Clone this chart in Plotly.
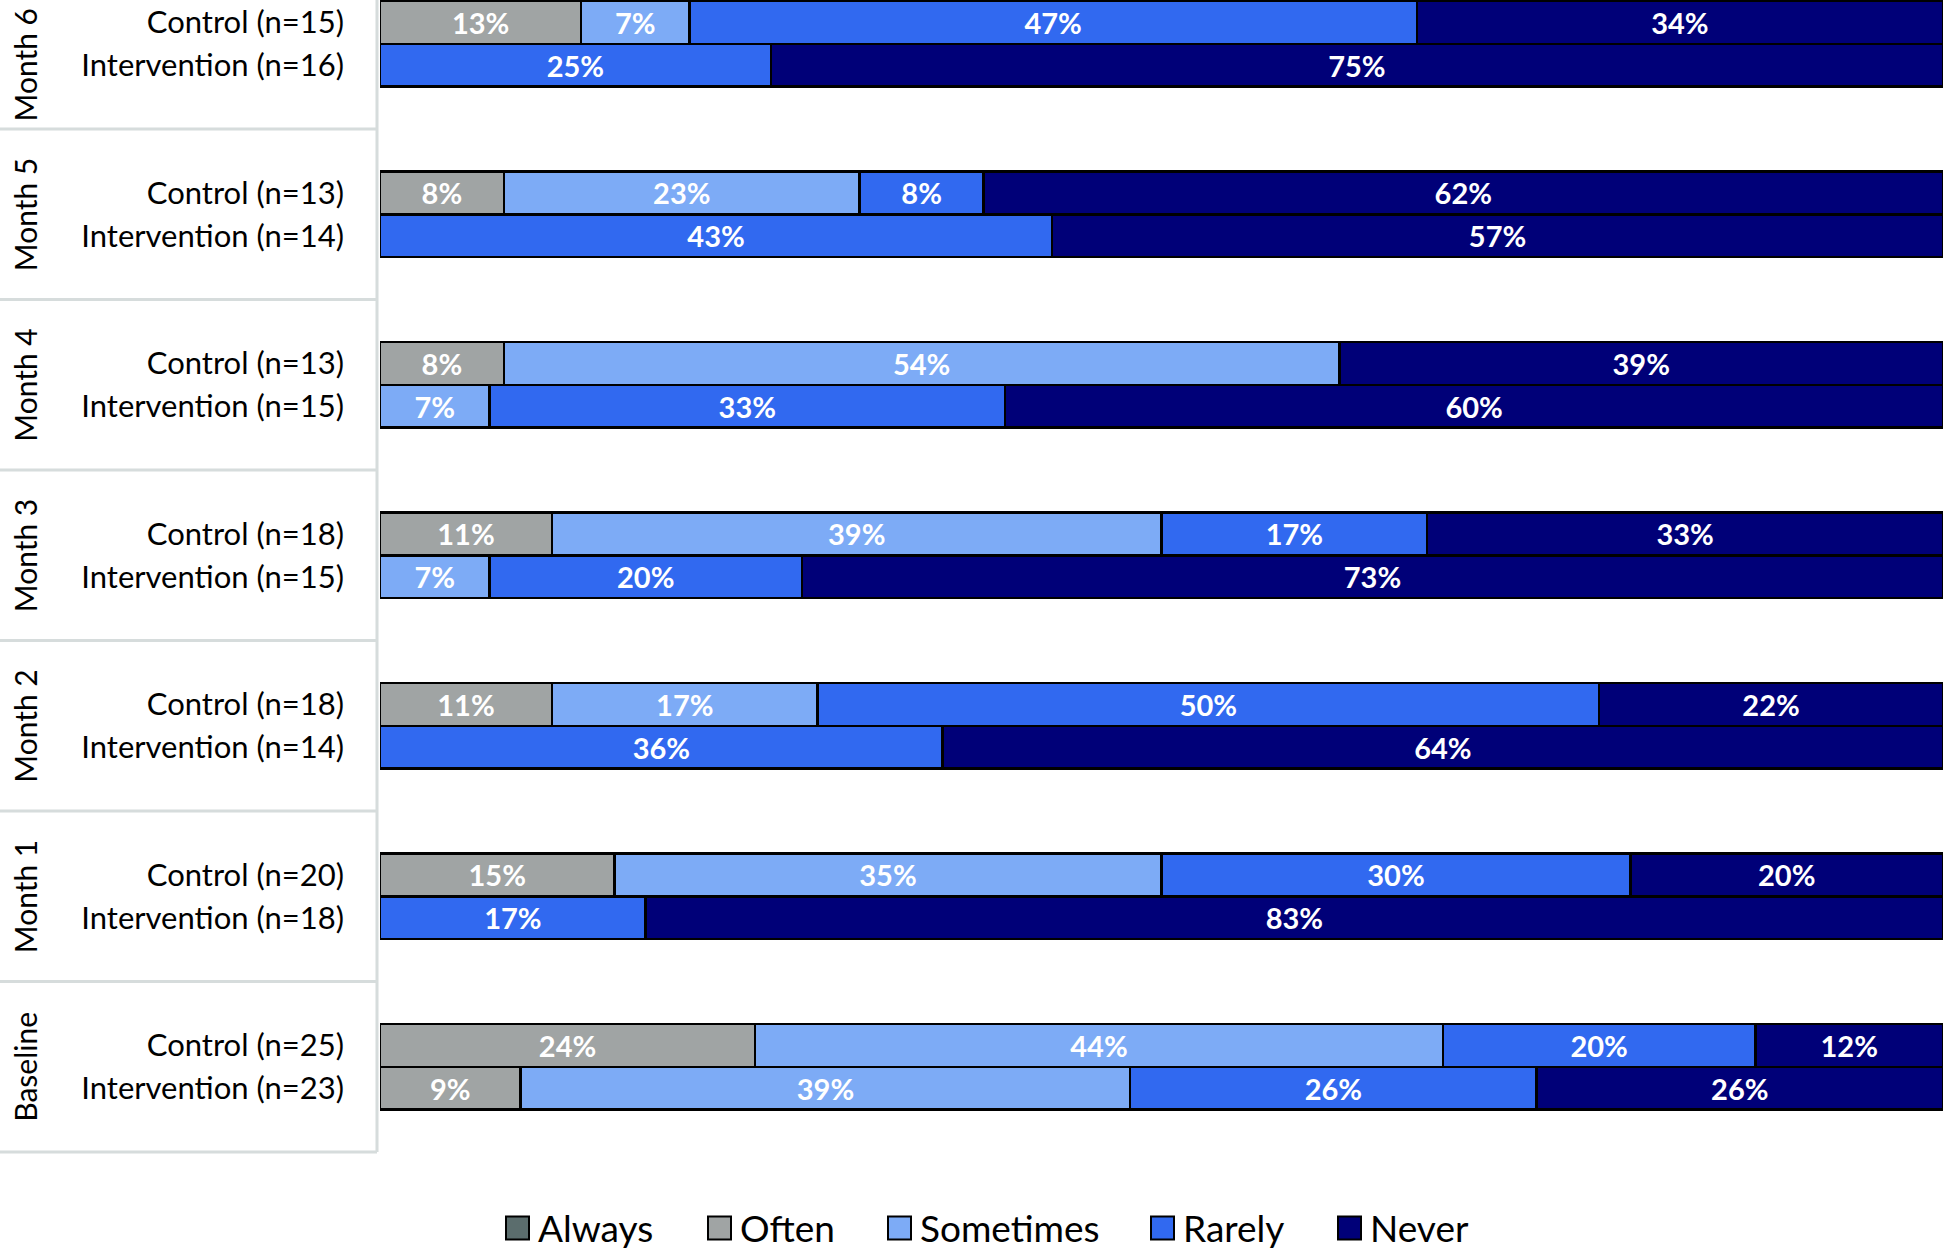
import plotly.graph_objects as go

# ---- data (top group first) ----
groups = ["Month 6", "Month 5", "Month 4", "Month 3", "Month 2", "Month 1", "Baseline"]
control_labels = ["Control (n=15)", "Control (n=13)", "Control (n=13)", "Control (n=18)",
                  "Control (n=18)", "Control (n=20)", "Control (n=25)"]
intervention_labels = ["Intervention (n=16)", "Intervention (n=14)", "Intervention (n=15)",
                       "Intervention (n=15)", "Intervention (n=14)", "Intervention (n=18)",
                       "Intervention (n=23)"]
categories = ["Always", "Often", "Sometimes", "Rarely", "Never"]

# percentages per group, [control, intervention]
always = [[0, 0], [0, 0], [0, 0], [0, 0], [0, 0], [0, 0], [0, 0]]
often = [[13, 0], [8, 0], [8, 0], [11, 0], [11, 0], [15, 0], [24, 9]]
sometimes = [[7, 0], [23, 0], [54, 7], [39, 7], [17, 0], [35, 0], [44, 39]]
rarely = [[47, 25], [8, 43], [0, 33], [17, 20], [50, 36], [30, 17], [20, 26]]
never = [[34, 75], [62, 57], [39, 60], [33, 73], [22, 64], [20, 83], [12, 26]]

colors = {"Always": "#5b6d6d", "Often": "#a0a4a4", "Sometimes": "#7dabf6",
          "Rarely": "#3169f0", "Never": "#000078"}
series = {"Always": always, "Often": often, "Sometimes": sometimes,
          "Rarely": rarely, "Never": never}

# ---- geometry ----
W, H = 1945, 1250
ML, MR, MT = 380, 2, 0
PLOT_H = 1152
MB = H - MT - PLOT_H
PLOT_W = W - ML - MR
ng = len(groups)
BAR_W = 0.252
off = BAR_W / 2
y_min = -0.5
y_max = (ng - 0.5) - 41.5 / 170.5

def gy(i):
    return ng - 1 - i  # group center (top group highest)

ys, ticks = [], []
for i in range(ng):
    ys.append(gy(i) + off)
    ys.append(gy(i) - off)
    ticks += [control_labels[i], intervention_labels[i]]

fig = go.Figure()
for cat in categories:
    vals = []
    for pair in series[cat]:
        vals += pair
    fig.add_trace(go.Bar(
        orientation="h",
        y=ys,
        x=[v if v else None for v in vals],
        width=BAR_W,
        name=cat,
        marker=dict(color=colors[cat], line=dict(color="black", width=2.5)),
        text=[f"{v}%" if v else "" for v in vals],
        texttemplate="%{text}",
        textposition="inside",
        insidetextanchor="middle",
        textangle=0,
        textfont=dict(family="Lato", size=29, color="white", weight="bold"),
        showlegend=False,
        hoverinfo="skip",
    ))

def px_to_xp(px):
    return (px - ML) / PLOT_W

def py_to_yp(py):
    return (MT + PLOT_H - py) / PLOT_H

def yd_to_yp(yd):
    return (yd - y_min) / (y_max - y_min)

shapes = []
annotations = []
panel_color = "#d6dcdc"
# left panel vertical line
shapes.append(dict(type="line", xref="paper", yref="paper",
                   x0=px_to_xp(377), x1=px_to_xp(377), y0=0, y1=1,
                   line=dict(color=panel_color, width=3)))
# horizontal separators and group labels
for i in range(ng):
    lo = gy(i) - 0.5
    hi = min(gy(i) + 0.5, y_max)
    yb = yd_to_yp(lo)
    shapes.append(dict(type="line", xref="paper", yref="paper",
                       x0=px_to_xp(0), x1=px_to_xp(377), y0=yb, y1=yb,
                       line=dict(color=panel_color, width=3)))
    annotations.append(dict(xref="paper", yref="paper", x=px_to_xp(25),
                            y=yd_to_yp((lo + hi) / 2), text=groups[i], textangle=-90,
                            showarrow=False, xanchor="center", yanchor="middle",
                            font=dict(family="Lato", size=30, color="black")))

# manual legend
leg_sq_x = [506, 708, 888, 1151, 1338]
leg_cy = 1228
sq = 23
for cat, sx in zip(categories, leg_sq_x):
    shapes.append(dict(type="rect", xref="paper", yref="paper",
                       x0=px_to_xp(sx), x1=px_to_xp(sx + sq),
                       y0=py_to_yp(leg_cy + sq / 2), y1=py_to_yp(leg_cy - sq / 2),
                       fillcolor=colors[cat], line=dict(color="black", width=2)))
    annotations.append(dict(xref="paper", yref="paper", x=px_to_xp(sx + sq + 7),
                            y=py_to_yp(leg_cy - 1), text=cat, showarrow=False,
                            xanchor="left", yanchor="middle",
                            font=dict(family="Lato", size=37, color="black")))

fig.update_layout(
    width=W, height=H,
    margin=dict(l=ML, r=MR, t=MT, b=MB, pad=0),
    barmode="stack",
    barnorm="percent",
    plot_bgcolor="white",
    paper_bgcolor="white",
    showlegend=False,
    shapes=shapes,
    annotations=annotations,
    xaxis=dict(range=[0, 100], visible=False, fixedrange=True),
    yaxis=dict(range=[y_min, y_max], tickvals=ys, ticktext=ticks,
               showgrid=False, zeroline=False, showline=False, ticks="",
               ticklabelstandoff=35, fixedrange=True,
               tickfont=dict(family="Lato", size=31, color="black")),
    font=dict(family="Lato"),
)

fig.write_html("out.html", config={"displayModeBar": False},
               post_script="document.body.style.margin='0';document.body.style.overflow='hidden';")
